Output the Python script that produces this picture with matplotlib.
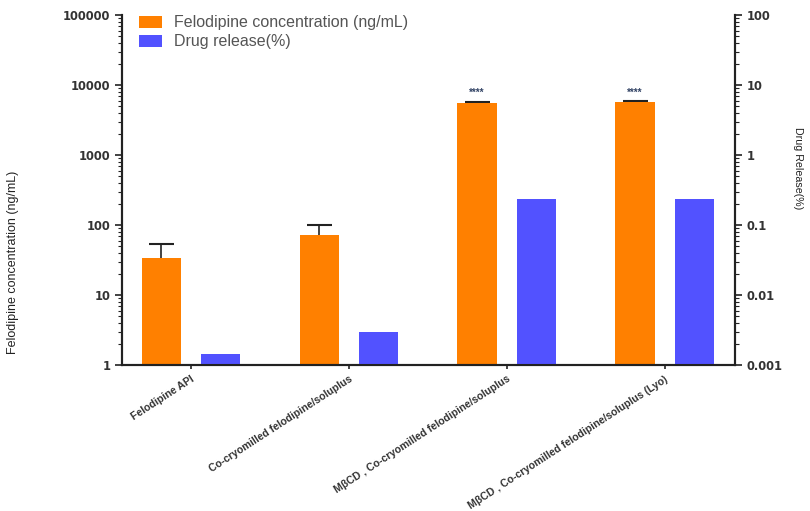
import matplotlib
matplotlib.use("Agg")
import matplotlib.pyplot as plt
import numpy as np
from matplotlib.ticker import LogLocator, FixedLocator, FixedFormatter, NullFormatter
from matplotlib.patches import Patch

plt.rcParams['font.family'] = ['Liberation Sans', 'DejaVu Sans']

categories = ["Felodipine API",
              "Co-cryomilled felodipine/soluplus",
              "MβCD , Co-cryomilled felodipine/soluplus",
              "MβCD , Co-cryomilled felodipine/soluplus (Lyo)"]
conc = [34, 72, 5500, 5700]
conc_err = [19, 28, 150, 150]
release = [0.00144, 0.00296, 0.234, 0.232]
stars = ["", "", "****", "****"]
star_level = 7700

orange = "#FF8000"
blue = "#5252FF"

fig = plt.figure(figsize=(8.1, 5.11), dpi=100)
ax = fig.add_axes([122/810, 1-365/511, (735-122)/810, (365-15)/511])
ax2 = ax.twinx()

x = np.arange(len(categories))
w = 0.247
off = 0.187

ax.bar(x - off, conc, w, color=orange, zorder=2)
eb = ax.errorbar(x - off, conc, yerr=[np.zeros(len(conc)), conc_err], fmt='none',
                 ecolor='#222222', elinewidth=1.2, capsize=9, capthick=1.5, zorder=1)
# hide the lower caps (one-sided, upward error bars)
if len(eb[1]) >= 2:
    eb[1][0].set_visible(False)
ax2.bar(x + off, release, w, color=blue, zorder=2)

for xi, s in zip(x, stars):
    if s:
        ax.text(xi - off, star_level, s, ha='center', va='center', fontsize=7,
                color='#334466', fontweight='bold')

ax.set_yscale('log')
ax.set_ylim(1, 100000)
ax2.set_yscale('log')
ax2.set_ylim(0.001, 100)
ax.set_xlim(-0.434, 3.446)

ax.yaxis.set_major_locator(FixedLocator([1, 10, 100, 1000, 10000, 100000]))
ax.yaxis.set_major_formatter(FixedFormatter(["1", "10", "100", "1000", "10000", "100000"]))
ax.yaxis.set_minor_locator(LogLocator(base=10, subs=np.arange(2, 10)))
ax.yaxis.set_minor_formatter(NullFormatter())
ax2.yaxis.set_major_locator(FixedLocator([0.001, 0.01, 0.1, 1, 10, 100]))
ax2.yaxis.set_major_formatter(FixedFormatter(["0.001", "0.01", "0.1", "1", "10", "100"]))
ax2.yaxis.set_minor_locator(LogLocator(base=10, subs=np.arange(2, 10)))
ax2.yaxis.set_minor_formatter(NullFormatter())

for a in (ax, ax2):
    a.spines['top'].set_visible(False)
    for s in ('left', 'right', 'bottom'):
        a.spines[s].set_linewidth(1.5)
        a.spines[s].set_color('#222222')
    a.tick_params(axis='y', which='major', length=5, width=1.2, colors='#222222')
    a.tick_params(axis='y', which='minor', length=3, width=0.8, colors='#222222')

for lab in ax.get_yticklabels() + ax2.get_yticklabels():
    lab.set_fontweight('bold')
    lab.set_fontfamily('DejaVu Sans')
    lab.set_fontsize(8.3)
    lab.set_color('#333333')

ax.set_xticks(x)
ax.set_xticklabels(categories, rotation=33, ha='right', rotation_mode='anchor',
                   fontsize=7.6, fontweight='bold', color='#333333')
ax.tick_params(axis='x', length=3, width=1.2, colors='#222222')
for lab in ax.get_xticklabels():
    lab.set_color('#333333')

fig.text(0.016, 1-262/511, "Felodipine concentration (ng/mL)", rotation=90,
         ha='center', va='center', fontsize=9, color='#222222')
fig.text(0.985, 1-168/511, "Drug Release(%)", rotation=270,
         ha='center', va='center', fontsize=7.7, color='#222222')

handles = [Patch(facecolor=orange, label="Felodipine concentration (ng/mL)"),
           Patch(facecolor=blue, label="Drug release(%)")]
ax.legend(handles=handles, loc='upper left', bbox_to_anchor=(0.005, 1.04),
          frameon=False, fontsize=11.5, handlelength=1.4, handleheight=0.8,
          labelspacing=0.25, handletextpad=0.75, labelcolor='#555555')

fig.savefig("out.png", dpi=100)
